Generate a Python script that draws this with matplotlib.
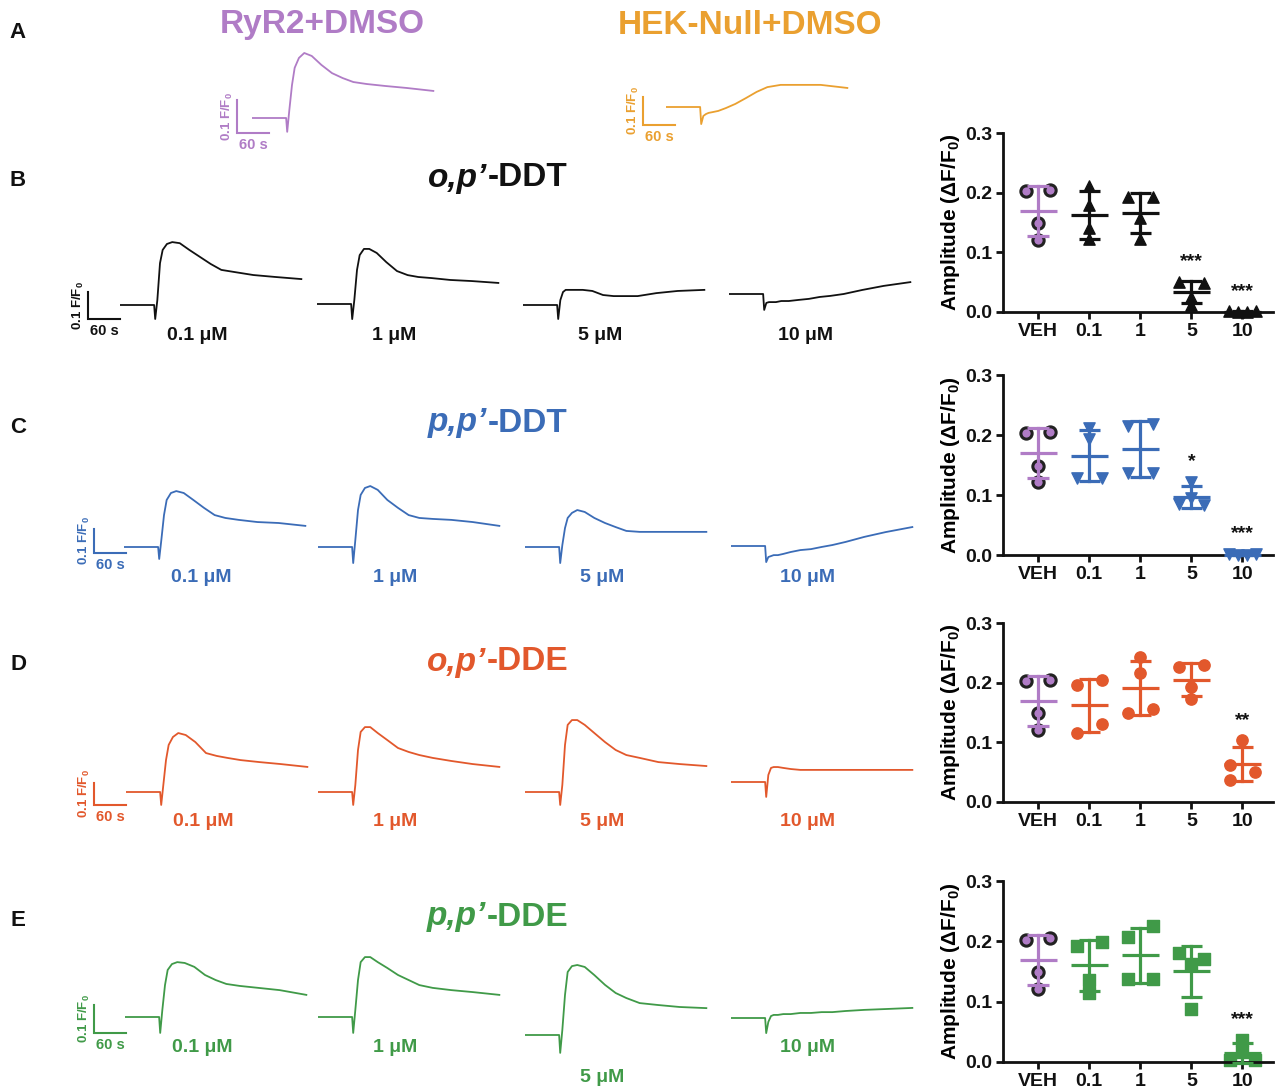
import numpy as np
import matplotlib
matplotlib.use('Agg')
import matplotlib.pyplot as plt

plt.rcParams['font.family'] = ['Liberation Sans', 'DejaVu Sans']
plt.rcParams['font.weight'] = 'bold'
plt.rcParams['axes.labelweight'] = 'bold'
plt.rcParams['mathtext.fontset'] = 'custom'
plt.rcParams['mathtext.rm'] = 'Liberation Sans:bold'
plt.rcParams['mathtext.bf'] = 'Liberation Sans:bold'
plt.rcParams['mathtext.it'] = 'Liberation Sans:italic:bold'

W, H = 1280, 1092

# ---------------- data ----------------
# time points of the Ca2+ traces (s from start of recording)
t_grid = [0, 64, 66, 70, 75, 80, 88, 98, 112, 130, 150, 170, 190, 215, 250, 290, 340]

# panel A traces (dF/F0)
ryr2_trace = [0, 0, -0.042, 0.024, 0.100, 0.152, 0.182, 0.197, 0.188, 0.161, 0.136, 0.121, 0.109, 0.103, 0.097, 0.091, 0.082]
hek_trace = [0, 0, -0.061, -0.032, -0.025, -0.021, -0.018, -0.014, -0.004, 0.011, 0.032, 0.054, 0.071, 0.079, 0.079, 0.079, 0.068]

# traces at 0.1, 1, 5, 10 uM
op_ddt_traces = [
    [0, 0, -0.052, 0.018, 0.155, 0.204, 0.226, 0.233, 0.229, 0.204, 0.178, 0.152, 0.130, 0.122, 0.111, 0.104, 0.096],
    [0, 0, -0.056, 0.015, 0.126, 0.181, 0.204, 0.204, 0.189, 0.155, 0.122, 0.107, 0.100, 0.096, 0.089, 0.085, 0.078],
    [0, 0, -0.052, 0.018, 0.048, 0.056, 0.056, 0.056, 0.056, 0.052, 0.037, 0.033, 0.033, 0.033, 0.044, 0.052, 0.056],
    [0, 0, -0.059, -0.033, -0.030, -0.030, -0.030, -0.026, -0.026, -0.022, -0.018, -0.011, -0.007, 0.0, 0.015, 0.030, 0.044],
]
pp_ddt_traces = [
    [0, 0, -0.050, 0.029, 0.133, 0.196, 0.225, 0.233, 0.225, 0.196, 0.163, 0.133, 0.121, 0.113, 0.104, 0.100, 0.088],
    [0, 0, -0.067, 0.029, 0.154, 0.217, 0.246, 0.254, 0.238, 0.196, 0.163, 0.133, 0.121, 0.117, 0.113, 0.104, 0.088],
    [0, 0, -0.067, 0.008, 0.079, 0.121, 0.142, 0.154, 0.146, 0.121, 0.100, 0.083, 0.067, 0.063, 0.063, 0.063, 0.063],
    [0, 0, -0.067, -0.046, -0.042, -0.038, -0.038, -0.033, -0.025, -0.017, -0.013, -0.004, 0.004, 0.017, 0.038, 0.058, 0.079],
]
op_dde_traces = [
    [0, 0, -0.059, 0.032, 0.145, 0.214, 0.250, 0.268, 0.259, 0.227, 0.177, 0.164, 0.155, 0.145, 0.136, 0.127, 0.114],
    [0, 0, -0.059, 0.032, 0.191, 0.273, 0.295, 0.295, 0.268, 0.236, 0.200, 0.182, 0.168, 0.155, 0.141, 0.127, 0.114],
    [0, 0, -0.059, 0.032, 0.214, 0.305, 0.327, 0.327, 0.305, 0.268, 0.227, 0.191, 0.168, 0.155, 0.136, 0.127, 0.118],
    [0, 0, -0.068, 0.032, 0.064, 0.068, 0.068, 0.064, 0.059, 0.055, 0.055, 0.055, 0.055, 0.055, 0.055, 0.055, 0.055],
]
pp_dde_traces = [
    [0, 0, -0.057, 0.025, 0.114, 0.168, 0.189, 0.196, 0.193, 0.179, 0.150, 0.132, 0.118, 0.111, 0.104, 0.096, 0.079],
    [0, 0, -0.057, 0.025, 0.132, 0.196, 0.214, 0.214, 0.196, 0.175, 0.150, 0.132, 0.114, 0.104, 0.096, 0.089, 0.079],
    [0, 0, -0.064, 0.018, 0.143, 0.225, 0.246, 0.250, 0.243, 0.214, 0.179, 0.150, 0.132, 0.114, 0.107, 0.100, 0.096],
    [0, 0, -0.054, -0.014, 0.007, 0.011, 0.011, 0.014, 0.014, 0.018, 0.018, 0.021, 0.021, 0.025, 0.029, 0.032, 0.036],
]

conc_labels = ['0.1 μM', '1 μM', '5 μM', '10 μM']
dose_ticks = ['VEH', '0.1', '1', '5', '10']

# amplitudes, n = 4 cells per group
veh_amp = [0.203, 0.205, 0.149, 0.121]
op_ddt_amp = [[0.211, 0.179, 0.140, 0.122], [0.192, 0.192, 0.157, 0.122],
              [0.050, 0.048, 0.025, 0.012], [0.001, 0.000, 0.000, 0.001]]
pp_ddt_amp = [[0.211, 0.193, 0.129, 0.129], [0.215, 0.219, 0.136, 0.136],
              [0.122, 0.095, 0.085, 0.083], [0.001, 0.000, 0.000, 0.002]]
op_dde_amp = [[0.196, 0.204, 0.131, 0.116], [0.243, 0.216, 0.150, 0.156],
              [0.226, 0.229, 0.193, 0.172], [0.104, 0.062, 0.051, 0.037]]
pp_dde_amp = [[0.192, 0.199, 0.136, 0.114], [0.207, 0.225, 0.138, 0.138],
              [0.181, 0.171, 0.162, 0.088], [0.037, 0.017, 0.003, 0.003]]

op_ddt_sig = ['', '', '***', '***']
pp_ddt_sig = ['', '', '*', '***']
op_dde_sig = ['', '', '', '**']
pp_dde_sig = ['', '', '', '***']

# horizontal scatter of points inside a column (-1 left, 0 centre, 1 right)
veh_side = [-1, 1, 0, 0]
row4 = [-1.1, -0.37, 0.37, 1.1]
op_ddt_side = [[0, 0, 0, 0], [-1, 1, 0, 0], [-1, 1, 0, 0], row4]
pp_ddt_side = [[0, 0, -1, 1], [-1, 1, -1, 1], [0, 0, -1, 1], row4]
op_dde_side = [[-1, 1, 1, -1], [0, 0, -1, 1], [-1, 1, 0, 0], [0, -1, 1, -1]]
pp_dde_side = [[-1, 1, 0, 0], [-1, 1, -1, 1], [-1, 1, 0, 0], [0, 0, -1, 1]]

# colours
PURPLE = '#b07cc6'
ORANGE = '#eaa030'
BLACK = '#111111'
BLUE = '#3b6cb7'
RED = '#e2582c'
GREEN = '#409a48'

fig = plt.figure(figsize=(W / 100, H / 100), dpi=100)

PX_PER_S = 32 / 60
T_MAX = 360
Y_LO, Y_HI = -0.12, 0.36


def fx(x):
    return x / W


def fy(y):
    return 1 - y / H


def trace_axes(x_left, baseline, px_per_01):
    ppu = px_per_01 / 0.1
    bottom_px = baseline - Y_LO * ppu
    height_px = (Y_HI - Y_LO) * ppu
    ax = fig.add_axes([fx(x_left), fy(bottom_px), T_MAX * PX_PER_S / W, height_px / H])
    ax.set_xlim(0, T_MAX)
    ax.set_ylim(Y_LO, Y_HI)
    ax.axis('off')
    return ax


def scale_bar(ax, t0, y0, color):
    ax.plot([t0, t0, t0 + 60], [y0 + 0.1, y0, y0], color=color, lw=1.5,
            clip_on=False, solid_joinstyle='miter')
    ax.annotate('0.1 F/F$_0$', (t0, y0 + 0.05), xytext=(-10, 0), textcoords='offset pixels',
                rotation=90, ha='center', va='center', fontsize=9.5, color=color,
                annotation_clip=False)
    ax.annotate('60 s', (t0 + 30, y0), xytext=(0, -12), textcoords='offset pixels',
                ha='center', va='center', fontsize=10.5, color=color, annotation_clip=False)


def two_part_title(xc, yc, ital, rest, color, size=24):
    r = fig.canvas.get_renderer()
    t1 = fig.text(0, fy(yc), ital, style='italic', fontsize=size, color=color,
                  ha='left', va='center')
    t2 = fig.text(0, fy(yc), rest, fontsize=size, color=color, ha='left', va='center')
    w1 = t1.get_window_extent(r).width
    w2 = t2.get_window_extent(r).width
    x0 = xc - (w1 + w2) / 2
    t1.set_x(fx(x0))
    t2.set_x(fx(x0 + w1 + 1))


def trace_row(traces, color, x_starts, baselines, px_per_01, bar, label_y):
    axs = []
    for i, tr in enumerate(traces):
        ax = trace_axes(x_starts[i], baselines[i], px_per_01)
        ax.plot(t_grid, tr, color=color, lw=1.3)
        axs.append(ax)
        fig.text(fx(x_starts[i] + 77), fy(label_y[i]), conc_labels[i], color=color,
                 fontsize=14, ha='center', va='center')
    scale_bar(axs[0], bar[0], bar[1], color)


def scatter_panel(top, bottom, amps, sides, sig, color, marker):
    ax = fig.add_axes([fx(1003), fy(bottom), 270 / W, (bottom - top) / H])
    ax.set_xlim(-0.69, 4.6)
    ax.set_ylim(0, 0.3)
    groups = [veh_amp] + amps
    all_sides = [veh_side] + sides
    for i, vals in enumerate(groups):
        c = PURPLE if i == 0 else color
        xs = i + 0.24 * np.asarray(all_sides[i])
        if i == 0:
            ax.scatter(xs, vals, s=66, marker='o', facecolor=PURPLE, edgecolor='#222222',
                       linewidth=2.2, zorder=2, clip_on=False)
        else:
            ax.scatter(xs, vals, s=66, marker=marker, color=color, zorder=2, clip_on=False)
        m = np.mean(vals)
        sd = np.std(vals, ddof=1)
        ax.plot([i - 0.36, i + 0.36], [m, m], color=c, lw=2.3, zorder=3, clip_on=False,
                solid_capstyle='butt')
        ax.plot([i, i], [m - sd, m + sd], color=c, lw=2.3, zorder=3, clip_on=False)
        for yy in (m - sd, m + sd):
            ax.plot([i - 0.21, i + 0.21], [yy, yy], color=c, lw=2.3, zorder=3,
                    clip_on=False, solid_capstyle='butt')
        if i > 0 and sig[i - 1]:
            ytop = max(max(vals), m + sd) + 0.033
            ax.text(i, ytop, sig[i - 1], ha='center', va='center', fontsize=14, color=BLACK)
    ax.spines[['top', 'right']].set_visible(False)
    for s in ('left', 'bottom'):
        ax.spines[s].set_linewidth(2.0)
        ax.spines[s].set_color('#111111')
    ax.set_yticks([0, 0.1, 0.2, 0.3])
    ax.set_yticklabels(['0.0', '0.1', '0.2', '0.3'])
    ax.set_xticks(range(5))
    ax.set_xticklabels(dose_ticks)
    ax.tick_params(axis='both', width=2.0, length=5, labelsize=14, pad=3, colors='#111111')
    ax.set_ylabel('Amplitude (ΔF/F$_0$)', fontsize=15, fontweight='bold', labelpad=2)
    return ax


# ---------------- panel letters ----------------
for letter, y in zip('ABCDE', [32, 180, 428, 665, 920]):
    fig.text(fx(18), fy(y), letter, fontsize=16, ha='center', va='center', color=BLACK)

# ---------------- panel A ----------------
fig.text(fx(322), fy(25), 'RyR2+DMSO', fontsize=24, color=PURPLE, ha='center', va='center')
fig.text(fx(750), fy(25), 'HEK-Null+DMSO', fontsize=24, color=ORANGE, ha='center', va='center')
axA1 = trace_axes(252, 118, 33)
axA1.plot(t_grid, ryr2_trace, color=PURPLE, lw=1.3)
scale_bar(axA1, -28, -0.045, PURPLE)
axA2 = trace_axes(666, 107, 28)
axA2.plot(t_grid, hek_trace, color=ORANGE, lw=1.3)
scale_bar(axA2, -43, -0.064, ORANGE)

# ---------------- rows B-E ----------------
two_part_title(497, 178, 'o,p’', '-DDT', BLACK)
trace_row(op_ddt_traces, BLACK, [120, 317, 523, 729], [305, 304, 305, 294], 27,
          (-60, -0.052), [335, 335, 335, 335])
scatter_panel(133, 312, op_ddt_amp, op_ddt_side, op_ddt_sig, BLACK, '^')

two_part_title(497, 423, 'p,p’', '-DDT', BLUE)
trace_row(pp_ddt_traces, BLUE, [124, 318, 525, 731], [547, 547, 547, 546], 24,
          (-56, -0.025), [577, 577, 577, 577])
scatter_panel(375, 555, pp_ddt_amp, pp_ddt_side, pp_ddt_sig, BLUE, 'v')

two_part_title(497, 662, 'o,p’', '-DDE', RED)
trace_row(op_dde_traces, RED, [126, 318, 525, 731], [792, 792, 792, 782], 22,
          (-60, -0.059), [822, 822, 822, 822])
scatter_panel(623, 802, op_dde_amp, op_dde_side, op_dde_sig, RED, 'o')

two_part_title(497, 917, 'p,p’', '-DDE', GREEN)
trace_row(pp_dde_traces, GREEN, [125, 318, 525, 731], [1017, 1017, 1035, 1018], 28,
          (-58, -0.057), [1048, 1048, 1077, 1048])
scatter_panel(881, 1062, pp_dde_amp, pp_dde_side, pp_dde_sig, GREEN, 's')

fig.savefig('out.png', dpi=100)
